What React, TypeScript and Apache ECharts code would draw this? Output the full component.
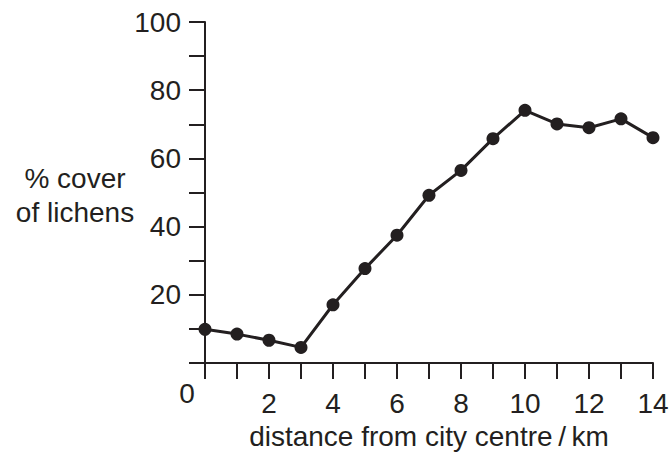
import React, { useEffect, useRef } from "react";
import * as echarts from "echarts";

const distanceKm = [0, 1, 2, 3, 4, 5, 6, 7, 8, 9, 10, 11, 12, 13, 14];
const lichenCover = [9.9, 8.5, 6.7, 4.6, 17.1, 27.7, 37.5, 49.2, 56.5, 65.8, 74.1, 70.1, 69.0, 71.6, 66.1];
const yTickLabels = [20, 40, 60, 80, 100];
const xTickLabels = [2, 4, 6, 8, 10, 12, 14];

const INK = "#231f20";
const FONT = "'Liberation Sans', Arial, sans-serif";
const FS = 28;

export default function App() {
  const ref = useRef<HTMLDivElement>(null);
  useEffect(() => {
    if (!ref.current) return;
    const chart = echarts.init(ref.current, undefined, { renderer: "svg" });
    chart.setOption({
      animation: false,
      backgroundColor: "#ffffff",
      grid: { left: 205, right: 19, top: 22, bottom: 85 },
      xAxis: {
        type: "value",
        min: 0,
        max: 14,
        interval: 1,
        name: "distance from city centre\u2009/\u2009km",
        nameLocation: "middle",
        nameGap: 56,
        nameTextStyle: { color: INK, fontSize: FS, fontFamily: FONT },
        axisLine: { show: true, onZero: false, lineStyle: { color: INK, width: 2 } },
        axisTick: { show: true, length: 16, lineStyle: { color: INK, width: 2 } },
        axisLabel: {
          color: INK,
          fontSize: FS,
          fontFamily: FONT,
          margin: 26,
          formatter: (v: number) => (xTickLabels.includes(v) ? String(v) : ""),
        },
        splitLine: { show: false },
      },
      yAxis: {
        type: "value",
        min: 0,
        max: 100,
        interval: 10,
        axisLine: { show: true, onZero: false, lineStyle: { color: INK, width: 2 } },
        axisTick: { show: true, length: 16, lineStyle: { color: INK, width: 2 } },
        axisLabel: {
          color: INK,
          fontSize: FS,
          fontFamily: FONT,
          margin: 24,
          formatter: (v: number) => (yTickLabels.includes(v) ? String(v) : ""),
        },
        splitLine: { show: false },
      },
      graphic: [
        {
          type: "text",
          x: 187,
          y: 393,
          style: {
            text: "0",
            fill: INK,
            font: `${FS}px ${FONT}`,
            align: "center",
            verticalAlign: "middle",
          },
        },
        {
          type: "text",
          x: 75,
          y: 195,
          style: {
            text: "% cover\nof lichens",
            fill: INK,
            font: `${FS}px ${FONT}`,
            align: "center",
            verticalAlign: "middle",
            lineHeight: 34,
          },
        },
      ],
      series: [
        {
          type: "line",
          data: distanceKm.map((d, i) => [d, lichenCover[i]]),
          symbol: "circle",
          symbolSize: 13,
          lineStyle: { color: INK, width: 3 },
          itemStyle: { color: INK },
        },
      ],
    });
    return () => chart.dispose();
  }, []);
  return (
    <div
      ref={ref}
      style={{ position: "fixed", left: 0, top: 0, width: 672, height: 455 }}
    />
  );
}
